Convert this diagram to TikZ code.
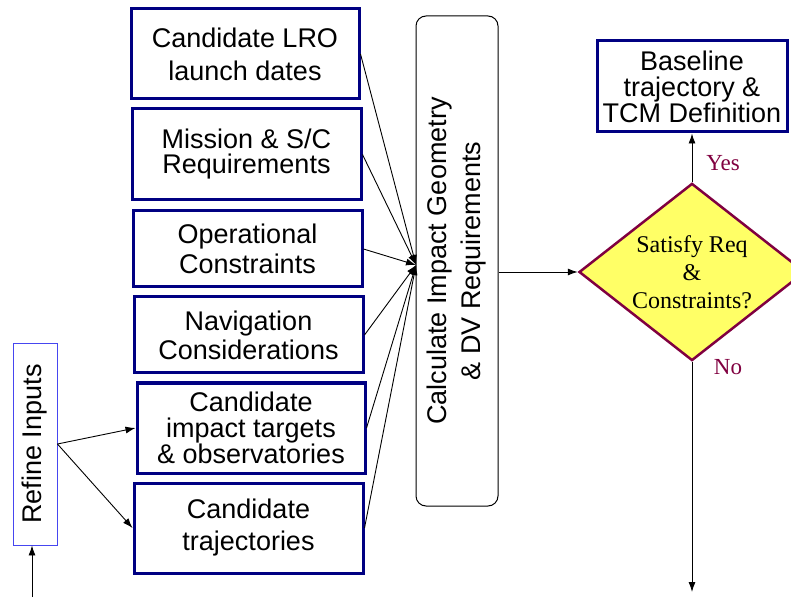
\documentclass[tikz,border=0pt]{standalone}
\usepackage{fontspec}
\setmainfont{Liberation Serif}
\setsansfont{Liberation Sans}
\usepackage{xcolor}
\definecolor{boxblue}{RGB}{0,0,130}
\definecolor{refblue}{RGB}{70,70,240}
\definecolor{yellowfill}{RGB}{255,255,102}
\definecolor{mymaroon}{RGB}{128,0,64}
\usepackage{tikz}
\usetikzlibrary{calc,positioning,shapes.geometric,arrows.meta}

\begin{document}
\begin{tikzpicture}[x=1pt,y=1pt,
            inbox/.style={draw=boxblue,line width=3pt,fill=white,align=center,inner sep=0pt,
              font=\sffamily\fontsize{27}{#1}\selectfont},
            inbox/.default=29,
            conn/.style={line width=0.9pt,-{Latex[length=10pt,width=7pt]}},
            answer/.style={text=mymaroon,font=\fontsize{23}{27}\selectfont}]
            \useasboundingbox (0,0) rectangle (791,597);
            \node[inbox=33,minimum width=228pt,minimum height=90pt] (lro) at (245,543) {Candidate LRO\\launch dates};
            \node[inbox=25,minimum width=229pt,minimum height=91pt] (mission) at (246.5,442.5) {Mission \& S/C\\Requirements};
            \node[inbox=30,minimum width=229pt,minimum height=76pt] (oper) at (247.5,348) {Operational\\Constraints};
            \node[inbox=29,minimum width=229pt,minimum height=76pt] (nav) at (248.5,262) {Navigation\\Considerations};
            \node[inbox=26,minimum width=228pt,minimum height=90pt] (targets) at (251,169) {Candidate\\impact targets\\\& observatories};
            \node[inbox=32,minimum width=229pt,minimum height=90pt] (traj) at (248.5,69) {Candidate\\trajectories};
            \node[draw=refblue,line width=0.9pt,rotate=90,minimum width=202pt,minimum height=44pt,inner sep=0pt,
              font=\sffamily\fontsize{27}{29}\selectfont] (refine) at (35,153) {Refine Inputs};
            \node[draw,line width=1pt,rounded corners=10pt,rotate=90,minimum width=490pt,minimum height=82pt,
              inner sep=0pt,align=center,font=\sffamily\fontsize{27}{34}\selectfont] (calc) at (457,336)
              {Calculate Impact Geometry\\\& DV Requirements};
            \node[inbox=26,minimum width=190pt,minimum height=91pt] (base) at (692,510.5) {Baseline\\trajectory \&\\TCM Definition};
            \node[diamond,draw=mymaroon,line width=2.5pt,fill=yellowfill,minimum width=226pt,minimum height=167pt,
              inner sep=-4pt,align=center,font=\fontsize{24}{28}\selectfont] (dia) at (692,325) {Satisfy Req\\\&\\Constraints?};
            \coordinate (hub) at (416,332);
            \coordinate (rin) at (32,0);
            \coordinate (dout) at (692,5);
            \foreach \src in {lro,mission,oper,nav,targets,traj}
              \draw[conn] (\src.east) -- (hub);
            \draw[conn] (refine.south) -- (targets.west);
            \draw[conn] (refine.south) -- (traj.west);
            \draw[conn] (rin) -- (rin |- refine.west);
            \draw[conn] (calc.south |- dia.west) -- (dia.west);
            \draw[conn] (dia.north) -- (base.south);
            \draw[conn] (dia.south) -- (dout);
            \node[answer] (yes) at (723,434) {Yes};
            \node[answer] (no) at (728,230) {No};
        \end{tikzpicture}
\end{document}
